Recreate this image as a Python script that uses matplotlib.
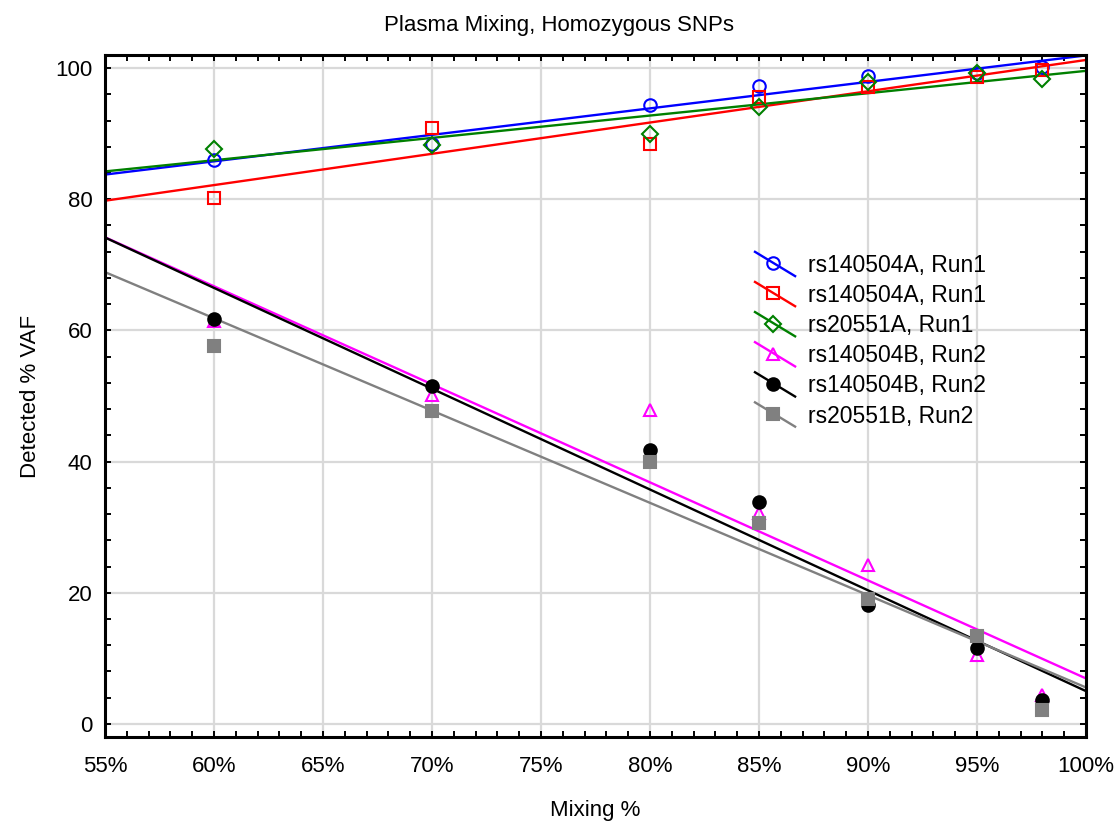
import numpy as np
import matplotlib
matplotlib.use("Agg")
import matplotlib.pyplot as plt
from matplotlib.lines import Line2D
from matplotlib.legend_handler import HandlerLine2D
from matplotlib.ticker import MultipleLocator, FuncFormatter

plt.rcParams['font.family'] = ['Liberation Sans', 'DejaVu Sans']

# ---- data ----
mixing = [60, 70, 80, 85, 90, 95, 98]
rs140504A_run1_a = [86.0, 88.4, 94.3, 97.3, 98.8, 99.3, 100.2]
rs140504A_run1_b = [80.2, 90.8, 88.5, 95.6, 97.1, 98.6, 99.7]
rs20551A_run1 = [87.7, 88.3, 90.0, 94.1, 97.9, 99.2, 98.3]
rs140504B_run2_a = [61.5, 50.2, 47.9, 32.2, 24.2, 10.5, 4.4]
rs140504B_run2_b = [61.8, 51.6, 41.8, 33.9, 18.2, 11.5, 3.7]
rs20551B_run2 = [57.6, 47.7, 40.0, 30.7, 19.1, 13.4, 2.1]

labels = ["rs140504A, Run1", "rs140504A, Run1", "rs20551A, Run1",
          "rs140504B, Run2", "rs140504B, Run2", "rs20551B, Run2"]
series = [rs140504A_run1_a, rs140504A_run1_b, rs20551A_run1,
          rs140504B_run2_a, rs140504B_run2_b, rs20551B_run2]

styles = [
    dict(color='#0000ff', marker='o', mfc='none', mec='#0000ff', ms=9),
    dict(color='#ff0000', marker='s', mfc='none', mec='#ff0000', ms=8.5),
    dict(color='#008000', marker='D', mfc='none', mec='#008000', ms=8),
    dict(color='#ff00ff', marker='^', mfc='none', mec='#ff00ff', ms=9),
    dict(color='#000000', marker='o', mfc='#000000', mec='#000000', ms=9),
    dict(color='#808080', marker='s', mfc='#808080', mec='#808080', ms=8.5),
]

xlim = (55, 100)
ylim = (-2, 102)

fig = plt.figure(figsize=(11.17, 8.22), dpi=100)
ax = fig.add_axes([105/1117, 1-737/822, (1086-105)/1117, (737-55)/822])

xs = np.array(mixing, dtype=float)
xfit = np.array(xlim, dtype=float)
handles = []
for ys, st, lab in zip(series, styles, labels):
    k, b = np.polyfit(xs, np.array(ys), 1)
    ax.plot(xfit, k*xfit + b, color=st['color'], lw=1.7, zorder=2, solid_capstyle='butt')
for ys, st, lab in zip(series, styles, labels):
    ax.plot(xs, ys, ls='none', marker=st['marker'], mfc=st['mfc'], mec=st['mec'],
            ms=st['ms'], mew=1.5, zorder=3)
    handles.append(Line2D([], [], color=st['color'], lw=1.7, marker=st['marker'],
                          mfc=st['mfc'], mec=st['mec'], ms=st['ms'], mew=1.5, label=lab))

ax.set_xlim(*xlim)
ax.set_ylim(*ylim)
ax.xaxis.set_major_locator(MultipleLocator(5))
ax.xaxis.set_minor_locator(MultipleLocator(1))
ax.yaxis.set_major_locator(MultipleLocator(20))
ax.yaxis.set_minor_locator(MultipleLocator(4))
ax.xaxis.set_major_formatter(FuncFormatter(lambda v, p: f"{v:.0f}%"))
ax.grid(True, which='major', color='#d9d9d9', lw=1.6, zorder=0)
ax.set_axisbelow(True)
ax.tick_params(which='both', direction='in', top=True, right=True, length=4, width=1.4,
               labelsize=16)
ax.tick_params(axis='x', which='major', pad=14)
ax.tick_params(axis='y', which='major', pad=9)
for s in ax.spines.values():
    s.set_linewidth(2.2)

ax.set_xlabel("Mixing %", fontsize=16, labelpad=16)
ax.set_ylabel("Detected % VAF", fontsize=16, labelpad=10)
fig.suptitle("Plasma Mixing, Homozygous SNPs", fontsize=16, x=0.5, y=1-25/822, va='center')


class SlopedHandler(HandlerLine2D):
    def create_artists(self, legend, orig_handle, xdescent, ydescent, width, height,
                       fontsize, trans):
        x0 = -xdescent
        x1 = -xdescent + width
        yc = height/2 - ydescent
        dy = 0.53*fontsize
        line = Line2D([x0, x1], [yc + dy, yc - dy], color=orig_handle.get_color(),
                      lw=orig_handle.get_linewidth())
        mk = Line2D([(x0 + x1)/2 - 0.05*width], [yc + 0.05*dy], ls='none',
                    marker=orig_handle.get_marker(), mfc=orig_handle.get_markerfacecolor(),
                    mec=orig_handle.get_markeredgecolor(), ms=orig_handle.get_markersize(),
                    mew=orig_handle.get_markeredgewidth())
        line.set_transform(trans)
        mk.set_transform(trans)
        return [line, mk]


leg = ax.legend(handles=handles, loc='upper left', bbox_to_anchor=(755/1117, 1-254/822),
                bbox_transform=fig.transFigure, frameon=False, fontsize=16.5,
                handlelength=1.75, handletextpad=0.55, labelspacing=0.31,
                borderpad=0, borderaxespad=0,
                handler_map={Line2D: SlopedHandler()})

fig.savefig("out.png", dpi=100)
